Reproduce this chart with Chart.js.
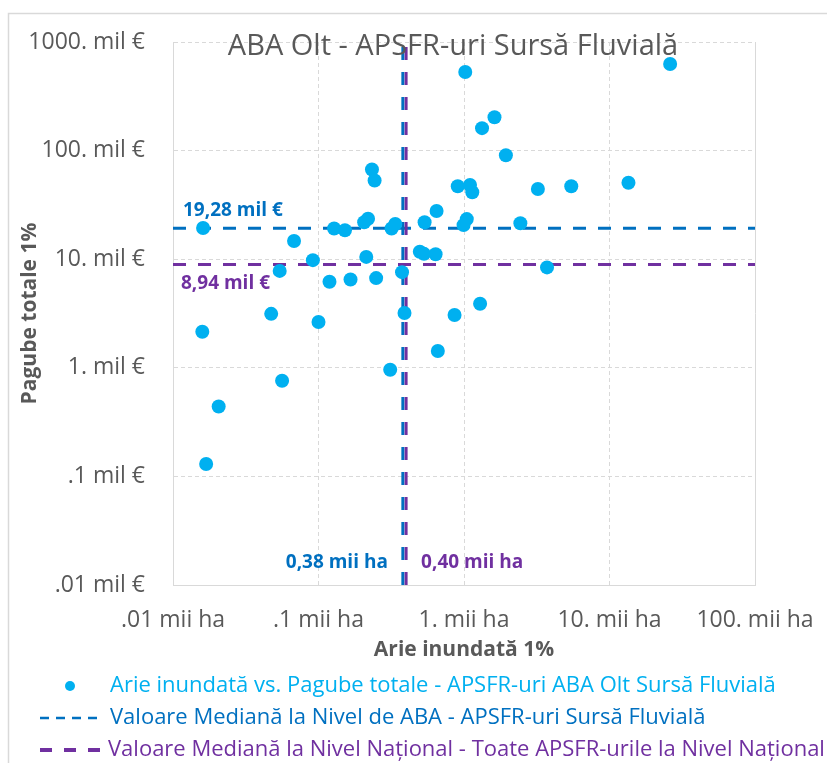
<!DOCTYPE html>
<html lang="ro">
<head>
<meta charset="UTF-8">
<title>ABA Olt - APSFR-uri Sursă Fluvială</title>
<script src="https://cdn.jsdelivr.net/npm/chart.js@4.4.0/dist/chart.umd.min.js"></script>
<style>
  html, body { margin: 0; padding: 0; background: #fff; }
  #wrap { width: 827px; height: 763px; }
</style>
</head>
<body>
<div id="wrap"><canvas id="chartOlt" width="827" height="763"></canvas></div>
<script>
// APSFR-uri ABA Olt, sursa fluviala: arie inundata 1% (mii ha) si pagube totale 1% (mil €)
const arieMiiHa = [
  0.0161, 0.0159, 0.0206, 0.0169, 0.0473, 0.0562, 0.0541, 0.0679, 0.0915, 0.100,
  0.119, 0.128, 0.152, 0.166, 0.213, 0.206, 0.219, 0.233, 0.243, 0.249,
  0.318, 0.337, 0.375, 0.390, 0.311, 0.497, 0.531, 0.638, 0.536, 0.648,
  0.906, 1.10, 1.14, 1.045, 0.993, 0.861, 0.661, 1.29, 1.02, 1.62,
  1.33, 1.94, 3.22, 5.46, 13.5, 26.1, 2.44, 3.72
];
const pagubeMilEur = [
  19.4, 2.15, 0.44, 0.13, 3.14, 0.76, 7.8, 14.7, 9.8, 2.64,
  6.2, 19.2, 18.5, 6.5, 10.5, 21.9, 23.6, 67, 53, 6.7,
  19.2, 21.1, 7.6, 3.2, 0.96, 11.7, 11.2, 11.1, 21.9, 27.8,
  46.9, 48.2, 41.4, 23.4, 20.6, 3.06, 1.43, 3.89, 529, 203,
  161, 90.5, 44.3, 46.9, 50.6, 627, 21.4, 8.4
];

// valori mediane
const medianArieAba = 0.38;
const medianPagubeAba = 19.28;
const medianArieNational = 0.40;
const medianPagubeNational = 8.94;
const medianLabels = ['19,28 mil €', '8,94 mil €', '0,38 mii ha', '0,40 mii ha'];

const xTickValues = [0.01, 0.1, 1, 10, 100];
const xTickLabels = ['.01 mii ha', '.1 mii ha', '1. mii ha', '10. mii ha', '100. mii ha'];
const yTickValues = [0.01, 0.1, 1, 10, 100, 1000];
const yTickLabels = ['.01 mil €', '.1 mil €', '1. mil €', '10. mil €', '100. mil €', '1000. mil €'];

const chartTitle = 'ABA Olt - APSFR-uri Sursă Fluvială';
const legendTexts = [
  'Arie inundată vs. Pagube totale - APSFR-uri ABA Olt Sursă Fluvială',
  'Valoare Mediană la Nivel de ABA - APSFR-uri Sursă Fluvială',
  'Valoare Mediană la Nivel Național - Toate APSFR-urile la Nivel Național'
];

const cPoint = '#00B0F0';
const cAba = '#0070C0';
const cNat = '#7030A0';
const cText = '#595959';
const cGrid = '#D9D9D9';

function decadeTicks(values) {
  return function(scale) {
    scale.ticks = values.map(v => ({ value: v }));
  };
}

// titlu, etichete mediane, legenda si chenarul graficului
const extras = {
  id: 'extras',
  afterDraw(chart) {
    const ctx = chart.ctx;
    const area = chart.chartArea;
    const xs = chart.scales.x;
    const ys = chart.scales.y;
    ctx.save();

    ctx.strokeStyle = cGrid;
    ctx.lineWidth = 1.5;
    ctx.strokeRect(8.5, 13.5, 900, 900);

    ctx.fillStyle = cText;
    ctx.font = '29px "Open Sans"';
    ctx.textAlign = 'center';
    ctx.textBaseline = 'middle';
    ctx.fillText(chartTitle, 453, 47);

    ctx.font = 'bold 19px "Open Sans"';
    ctx.textAlign = 'left';
    ctx.fillStyle = cAba;
    ctx.fillText(medianLabels[0], area.left + 10, ys.getPixelForValue(medianPagubeAba) - 18);
    ctx.fillStyle = cNat;
    ctx.fillText(medianLabels[1], area.left + 8, ys.getPixelForValue(medianPagubeNational) + 19);
    ctx.textAlign = 'right';
    ctx.fillStyle = cAba;
    ctx.fillText(medianLabels[2], xs.getPixelForValue(medianArieAba) - 15, area.bottom - 22);
    ctx.textAlign = 'left';
    ctx.fillStyle = cNat;
    ctx.fillText(medianLabels[3], xs.getPixelForValue(medianArieNational) + 15, area.bottom - 22);

    // legenda
    const rowY = [686, 718, 750];
    const textX = 110;
    ctx.font = '22px "Open Sans"';
    ctx.textAlign = 'left';

    ctx.fillStyle = cPoint;
    ctx.beginPath();
    ctx.arc(70, rowY[0], 5, 0, Math.PI * 2);
    ctx.fill();
    ctx.fillText(legendTexts[0], textX, rowY[0]);

    ctx.strokeStyle = cAba;
    ctx.lineWidth = 2.5;
    ctx.setLineDash([9, 7]);
    ctx.beginPath();
    ctx.moveTo(40, rowY[1]);
    ctx.lineTo(98, rowY[1]);
    ctx.stroke();
    ctx.fillStyle = cAba;
    ctx.fillText(legendTexts[1], textX, rowY[1]);

    ctx.strokeStyle = cNat;
    ctx.lineWidth = 4;
    ctx.setLineDash([12, 12]);
    ctx.beginPath();
    ctx.moveTo(40, rowY[2]);
    ctx.lineTo(100, rowY[2]);
    ctx.stroke();
    ctx.setLineDash([]);
    ctx.fillStyle = cNat;
    ctx.fillText(legendTexts[2], textX - 2, rowY[2]);

    ctx.restore();
  }
};

const points = arieMiiHa.map((x, i) => ({ x: x, y: pagubeMilEur[i] }));

function medianLine(data, color) {
  return {
    type: 'line',
    data: data,
    borderColor: color,
    borderWidth: 3,
    borderDash: [13, 12],
    pointRadius: 0,
    fill: false
  };
}

const ctx = document.getElementById('chartOlt').getContext('2d');
const chartOlt = new Chart(ctx, {
  type: 'scatter',
  data: {
    datasets: [
      {
        label: legendTexts[0],
        data: points,
        backgroundColor: cPoint,
        borderWidth: 0,
        pointRadius: 7,
        pointHoverRadius: 7
      },
      medianLine([{ x: xTickValues[0], y: medianPagubeNational }, { x: xTickValues[4], y: medianPagubeNational }], cNat),
      medianLine([{ x: medianArieNational, y: yTickValues[0] }, { x: medianArieNational, y: yTickValues[5] }], cNat),
      medianLine([{ x: xTickValues[0], y: medianPagubeAba }, { x: xTickValues[4], y: medianPagubeAba }], cAba),
      medianLine([{ x: medianArieAba, y: yTickValues[0] }, { x: medianArieAba, y: yTickValues[5] }], cAba)
    ]
  },
  options: {
    responsive: false,
    animation: false,
    layout: { padding: { left: 8, top: 42, right: 72, bottom: 102 } },
    plugins: {
      legend: { display: false },
      tooltip: { enabled: false }
    },
    scales: {
      x: {
        type: 'logarithmic',
        min: 0.01,
        max: 100,
        afterBuildTicks: decadeTicks(xTickValues),
        afterFit: function(scale) {
          scale.height = 76;
          scale.paddingLeft = 0;
          scale.paddingRight = 0;
        },
        grid: { color: cGrid, drawTicks: false },
        border: {
          color: cGrid,
          dash: function(c) { return c.tick && c.tick.value === 100 ? [] : [4, 3]; }
        },
        ticks: {
          color: cText,
          font: { family: 'Open Sans', size: 23 },
          padding: 22,
          maxRotation: 0,
          autoSkip: false,
          callback: function(value, index) { return xTickLabels[index]; }
        },
        title: {
          display: true,
          text: 'Arie inundată 1%',
          color: cText,
          font: { family: 'Open Sans', size: 21, weight: 'bold' },
          padding: { top: 0, bottom: -2 }
        }
      },
      y: {
        type: 'logarithmic',
        min: 0.01,
        max: 1000,
        afterBuildTicks: decadeTicks(yTickValues),
        afterFit: function(scale) {
          scale.width = 165;
          scale.paddingTop = 0;
          scale.paddingBottom = 0;
        },
        grid: { color: cGrid, drawTicks: false },
        border: { color: cGrid, dash: [4, 3] },
        ticks: {
          color: cText,
          font: { family: 'Open Sans', size: 23 },
          padding: 28,
          autoSkip: false,
          callback: function(value, index) { return yTickLabels[index]; }
        },
        title: {
          display: true,
          text: 'Pagube totale 1%',
          color: cText,
          font: { family: 'Open Sans', size: 21, weight: 'bold' },
          padding: { top: 9, bottom: 0 }
        }
      }
    }
  },
  plugins: [extras]
});
</script>
</body>
</html>
